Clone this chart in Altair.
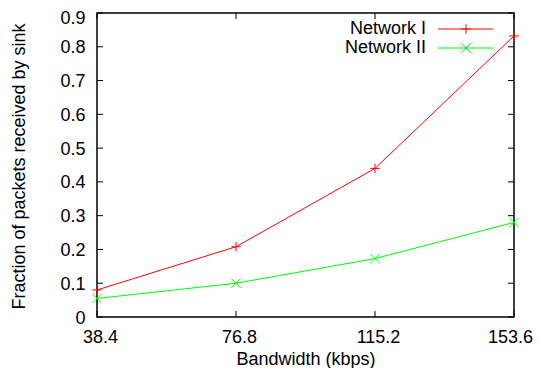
import altair as alt
import pandas as pd

bandwidth = [38.4, 76.8, 115.2, 153.6]
network_1 = [0.08, 0.208, 0.44, 0.832]
network_2 = [0.055, 0.10, 0.173, 0.28]
series_names = ["Network I", "Network II"]
series_colors = ["#ff0000", "#00ff00"]
series_shapes = ["M-1,0L1,0M0,-1L0,1", "M-1,-1L1,1M-1,1L1,-1"]
x_ticks = [38.4, 76.8, 115.2, 153.6]
y_ticks = [0, 0.1, 0.2, 0.3, 0.4, 0.5, 0.6, 0.7, 0.8, 0.9]

W, H = 417, 304
FONT = "Liberation Sans"
FS = 18

xscale = alt.Scale(domain=[38.4, 153.6], nice=False, zero=False)
yscale = alt.Scale(domain=[0, 0.9], nice=False, zero=False)

xaxis = alt.Axis(values=x_ticks, format=".1f", grid=False, ticks=False, tickSize=0,
                 domain=False, labelPadding=11, labelFontSize=FS, labelFont=FONT,
                 labelColor="black", labelFlush=False, labelOverlap=False,
                 labelOffset=alt.ExprRef(expr="datum.value > 150 ? -4 : 3"),
                 title="Bandwidth (kbps)", titleFont=FONT,
                 titleFontSize=FS, titleFontWeight="normal", titleColor="black",
                 titleBaseline="top", titleY=33)
yaxis = alt.Axis(values=y_ticks, format="~g", grid=False, ticks=False, tickSize=0,
                 domain=False, labelPadding=12, labelFontSize=FS, labelFont=FONT,
                 labelColor="black", labelFlush=False, labelOverlap=False,
                 labelOffset=alt.ExprRef(expr="datum.value > 0.85 ? 5 : 1"),
                 title="Fraction of packets received by sink",
                 titleFont=FONT, titleFontSize=FS, titleFontWeight="normal",
                 titleColor="black", titleX=-73, titleY=153, titleAngle=-90,
                 titleAlign="center", titleBaseline="alphabetic")


def X(field):
    return alt.X(field, scale=xscale, axis=xaxis)


def Y(field):
    return alt.Y(field, scale=yscale, axis=yaxis)


rows = []
for name, vals in zip(series_names, [network_1, network_2]):
    for b, v in zip(bandwidth, vals):
        rows.append({"bw": b, "frac": v, "series": name})
df = pd.DataFrame(rows)

layers = []
for i, name in enumerate(series_names):
    sub = df[df.series == name]
    base = alt.Chart(sub)
    line = base.mark_line(color=series_colors[i], strokeWidth=1).encode(
        x=X("bw:Q"), y=Y("frac:Q"))
    pts = base.mark_point(shape=series_shapes[i], size=90, filled=False,
                          color=series_colors[i], strokeWidth=1, opacity=1).encode(
        x=X("bw:Q"), y=Y("frac:Q"))
    layers += [line, pts]

# inward ticks on all four sides (gnuplot style)
xt = alt.Chart(pd.DataFrame({"bw": x_ticks}))
yt = alt.Chart(pd.DataFrame({"frac": y_ticks}))
TL = 6
tick_layers = [
    xt.mark_rule(color="black", strokeWidth=1).encode(
        x=X("bw:Q"), y=alt.value(H), y2=alt.value(H - TL)),
    xt.mark_rule(color="black", strokeWidth=1).encode(
        x=X("bw:Q"), y=alt.value(0), y2=alt.value(TL)),
    yt.mark_rule(color="black", strokeWidth=1).encode(
        y=Y("frac:Q"), x=alt.value(0), x2=alt.value(TL)),
    yt.mark_rule(color="black", strokeWidth=1).encode(
        y=Y("frac:Q"), x=alt.value(W), x2=alt.value(W - TL)),
]

# manual legend, gnuplot style (text left of sample)
legend_layers = []
for i, name in enumerate(series_names):
    ly = 16 + 19 * i
    one = alt.Chart(pd.DataFrame({"t": [name]}))
    legend_layers.append(one.mark_text(
        align="right", baseline="middle", font=FONT, fontSize=FS, color="black"
    ).encode(text="t:N", x=alt.value(329), y=alt.value(ly)))
    legend_layers.append(one.mark_rule(
        color=series_colors[i], strokeWidth=1
    ).encode(x=alt.value(341), x2=alt.value(396), y=alt.value(ly)))
    legend_layers.append(one.mark_point(
        shape=series_shapes[i], size=90, filled=False, color=series_colors[i],
        strokeWidth=1, opacity=1
    ).encode(x=alt.value(369), y=alt.value(ly)))

chart = alt.layer(*tick_layers, *layers, *legend_layers).properties(
    width=W, height=H,
    background="white",
    autosize=alt.AutoSizeParams(type="none"),
    padding={"left": 89, "top": 5, "right": 20, "bottom": 51},
).configure_view(stroke="black", strokeWidth=1.5)

chart.save("out.html", embed_options={"renderer": "svg", "actions": False})
